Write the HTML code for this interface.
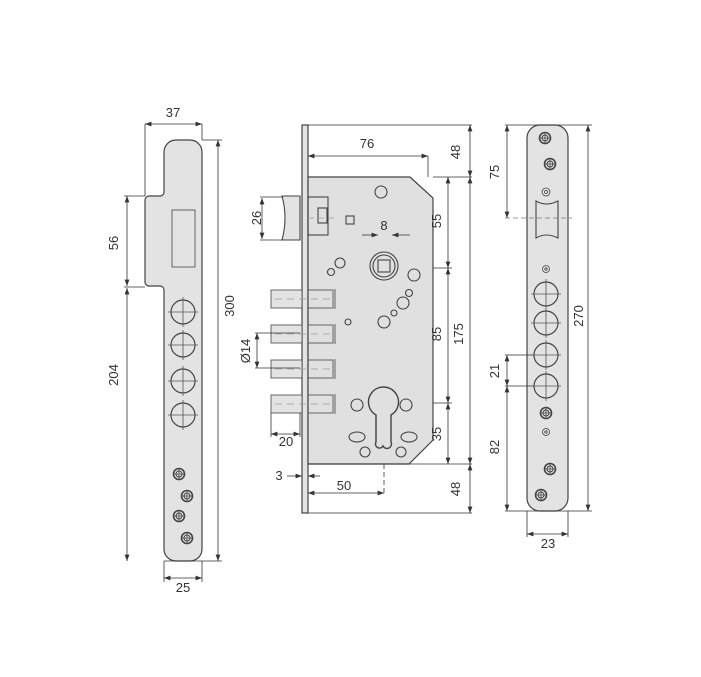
<!DOCTYPE html><html><head><style>body{margin:0;background:#fff}svg{display:block}text{font-family:"Liberation Sans",sans-serif;font-size:13px;fill:#333;text-anchor:middle}</style></head><body>
<svg width="701" height="677" viewBox="0 0 701 677" xmlns="http://www.w3.org/2000/svg">
<defs><marker id="a" markerWidth="8" markerHeight="6" refX="8" refY="3" orient="auto-start-reverse"><path d="M0,0L8,3L0,6z" fill="#333"/></marker>
<g id="scr"><circle r="5.5" fill="#e3e3e3" stroke="#444" stroke-width="1.6"/><circle r="3" fill="none" stroke="#444"/><path d="M-6,0H6M0,-6V6" stroke="#444" stroke-width=".8"/></g>
<g id="big"><circle r="12" fill="#e3e3e3" stroke="#444" stroke-width="1.2"/><path d="M-15,0H15M0,-15V15" stroke="#555" stroke-width=".8"/></g></defs>
<g stroke="#333" stroke-width=".8" fill="none">
<!-- left plate -->
<path d="M176,140H190A12,12 0 0 1 202,152V549A12,12 0 0 1 190,561H176A12,12 0 0 1 164,549V290A4,4 0 0 0 160,286H149A4,4 0 0 1 145,282V200A4,4 0 0 1 149,196H160A4,4 0 0 0 164,192V152A12,12 0 0 1 176,140Z" fill="#e3e3e3" stroke="#444" stroke-width="1.2"/>
<rect x="172" y="210" width="23" height="57" stroke="#444"/>
<path d="M145,196V124M202,140V124M202,140H222M164,561H222M164,561V582M202,561V582M145,196H124M145,287H124"/>
<line x1="145" y1="124" x2="202" y2="124" marker-start="url(#a)" marker-end="url(#a)"/>
<line x1="218" y1="140" x2="218" y2="561" marker-start="url(#a)" marker-end="url(#a)"/>
<line x1="127" y1="196" x2="127" y2="286" marker-start="url(#a)" marker-end="url(#a)"/>
<line x1="127" y1="288" x2="127" y2="561" marker-start="url(#a)" marker-end="url(#a)"/>
<line x1="164" y1="578" x2="202" y2="578" marker-start="url(#a)" marker-end="url(#a)"/>
<!-- lock case -->
<rect x="302" y="125" width="6" height="388" fill="#e3e3e3" stroke="#444" stroke-width="1.2"/>
<path d="M308,177H410L433,198V440L409,464H308Z" fill="#e0e0e0" stroke="#444" stroke-width="1.2"/>
<path d="M308,125H472M433,177H472M308,464H472M308,513H472M433,268H452M433,403H452M428,156V177"/>
<line x1="308" y1="156" x2="428" y2="156" marker-start="url(#a)" marker-end="url(#a)"/>
<line x1="470" y1="125" x2="470" y2="177" marker-start="url(#a)" marker-end="url(#a)"/>
<line x1="470" y1="177" x2="470" y2="464" marker-start="url(#a)" marker-end="url(#a)"/>
<line x1="470" y1="464" x2="470" y2="513" marker-start="url(#a)" marker-end="url(#a)"/>
<line x1="448" y1="177" x2="448" y2="268" marker-start="url(#a)" marker-end="url(#a)"/>
<line x1="448" y1="268" x2="448" y2="403" marker-start="url(#a)" marker-end="url(#a)"/>
<line x1="448" y1="403" x2="448" y2="464" marker-start="url(#a)" marker-end="url(#a)"/>
<line x1="362" y1="235" x2="378" y2="235" marker-end="url(#a)"/><line x1="410" y1="235" x2="392" y2="235" marker-end="url(#a)"/>
<g stroke="#444" stroke-width="1.1">
<circle cx="381" cy="192" r="6"/><rect x="346" y="216" width="8" height="8"/>
<circle cx="384" cy="266" r="14"/><circle cx="384" cy="266" r="11"/><rect x="378" y="260" width="12" height="12"/>
<circle cx="340" cy="263" r="5"/><circle cx="331" cy="272" r="3.5"/><circle cx="414" cy="275" r="6"/><circle cx="409" cy="293" r="3.5"/><circle cx="403" cy="303" r="6"/><circle cx="394" cy="313" r="3"/><circle cx="384" cy="322" r="6"/><circle cx="348" cy="322" r="3"/>
<path d="M376,415A15,15 0 1 1 391,415V442A4,4 0 0 1 383,446A4,4 0 0 1 376,442Z" stroke-width="1.4"/>
<circle cx="357" cy="405" r="6"/><circle cx="406" cy="405" r="6"/><ellipse cx="357" cy="437" rx="8" ry="5"/><ellipse cx="409" cy="437" rx="8" ry="5"/><circle cx="365" cy="452" r="5"/><circle cx="401" cy="452" r="5"/>
<path d="M282,196H300V240H282Q288,218 282,196Z" fill="#e3e3e3"/>
<rect x="308" y="197" width="20" height="38"/><rect x="318" y="208" width="9" height="15"/>
</g>
<path d="M308,218H335" stroke="#999" stroke-dasharray="6,4"/>
<line x1="262" y1="198" x2="262" y2="239" marker-start="url(#a)" marker-end="url(#a)"/><path d="M260,197H283M260,240H283"/>
<g stroke="#444">
<rect x="271" y="290" width="31" height="18" fill="#e3e3e3"/><rect x="308" y="290" width="25" height="18"/><path d="M335,289V309"/>
<rect x="271" y="325" width="31" height="18" fill="#e3e3e3"/><rect x="308" y="325" width="25" height="18"/><path d="M335,324V344"/>
<rect x="271" y="360" width="31" height="18" fill="#e3e3e3"/><rect x="308" y="360" width="25" height="18"/><path d="M335,359V379"/>
<rect x="271" y="395" width="31" height="18" fill="#e3e3e3"/><rect x="308" y="395" width="25" height="18"/><path d="M335,394V414"/>
</g>
<path d="M275,299H330M275,334H330M275,369H330M275,404H330" stroke="#999" stroke-dasharray="7,5"/>
<path d="M255,333H300M255,368H300M271,413V437M300,413V437"/>
<path d="M384,464V496" stroke-dasharray="5,3"/>
<line x1="257" y1="333" x2="257" y2="368" marker-start="url(#a)" marker-end="url(#a)"/>
<line x1="271" y1="434" x2="300" y2="434" marker-start="url(#a)" marker-end="url(#a)"/>
<line x1="287" y1="476" x2="302" y2="476" marker-end="url(#a)"/><line x1="320" y1="476" x2="308" y2="476" marker-end="url(#a)"/>
<line x1="308" y1="493" x2="384" y2="493" marker-start="url(#a)" marker-end="url(#a)"/>
<!-- right plate -->
<rect x="527" y="125" width="41" height="386" rx="13" fill="#e3e3e3" stroke="#444" stroke-width="1.2"/>
<path d="M536,201Q546,207 558,201V238Q546,232 536,238Z" stroke="#444" stroke-width="1.1"/>
<circle cx="546" cy="192" r="4" stroke="#444"/><circle cx="546" cy="192" r="1.5" stroke="#444"/>
<circle cx="546" cy="269" r="3.5" stroke="#444"/><circle cx="546" cy="269" r="1.2" stroke="#444"/>
<circle cx="546" cy="432" r="3.5" stroke="#444"/><circle cx="546" cy="432" r="1.2" stroke="#444"/>
<path d="M505,125H592M505,511H592M527,511V537M568,511V537M505,355H550M505,386H550"/>
<path d="M505,218H572" stroke="#777" stroke-dasharray="5,3"/>
<line x1="588" y1="125" x2="588" y2="511" marker-start="url(#a)" marker-end="url(#a)"/>
<line x1="507" y1="125" x2="507" y2="218" marker-start="url(#a)" marker-end="url(#a)"/>
<line x1="507" y1="355" x2="507" y2="386" marker-start="url(#a)" marker-end="url(#a)"/>
<line x1="507" y1="386" x2="507" y2="511" marker-start="url(#a)" marker-end="url(#a)"/>
<line x1="527" y1="534" x2="568" y2="534" marker-start="url(#a)" marker-end="url(#a)"/>
</g>
<g stroke="none">
<use href="#big" x="183" y="312"/><use href="#big" x="183" y="345"/><use href="#big" x="183" y="381"/><use href="#big" x="183" y="415"/>
<use href="#scr" x="179" y="474"/><use href="#scr" x="187" y="496"/><use href="#scr" x="179" y="516"/><use href="#scr" x="187" y="538"/>
<use href="#big" x="546" y="294"/><use href="#big" x="546" y="323"/><use href="#big" x="546" y="355"/><use href="#big" x="546" y="386"/>
<use href="#scr" x="545" y="138"/><use href="#scr" x="550" y="164"/><use href="#scr" x="546" y="413"/><use href="#scr" x="550" y="469"/><use href="#scr" x="541" y="495"/>
</g>
<text x="173" y="117">37</text>
<text x="183" y="592">25</text>
<text transform="translate(118,243) rotate(-90)">56</text>
<text transform="translate(118,375) rotate(-90)">204</text>
<text transform="translate(234,306) rotate(-90)">300</text>
<text x="367" y="148">76</text>
<text x="384" y="230">8</text>
<text transform="translate(460,152) rotate(-90)">48</text>
<text transform="translate(441,221) rotate(-90)">55</text>
<text transform="translate(441,334) rotate(-90)">85</text>
<text transform="translate(463,334) rotate(-90)">175</text>
<text transform="translate(441,434) rotate(-90)">35</text>
<text transform="translate(460,489) rotate(-90)">48</text>
<text transform="translate(261,218) rotate(-90)">26</text>
<text transform="translate(250,351) rotate(-90)">Ø14</text>
<text x="286" y="446">20</text>
<text x="279" y="480">3</text>
<text x="344" y="490">50</text>
<text transform="translate(499,172) rotate(-90)">75</text>
<text transform="translate(499,371) rotate(-90)">21</text>
<text transform="translate(499,447) rotate(-90)">82</text>
<text transform="translate(583,316) rotate(-90)">270</text>
<text x="548" y="548">23</text>
</svg></body></html>
